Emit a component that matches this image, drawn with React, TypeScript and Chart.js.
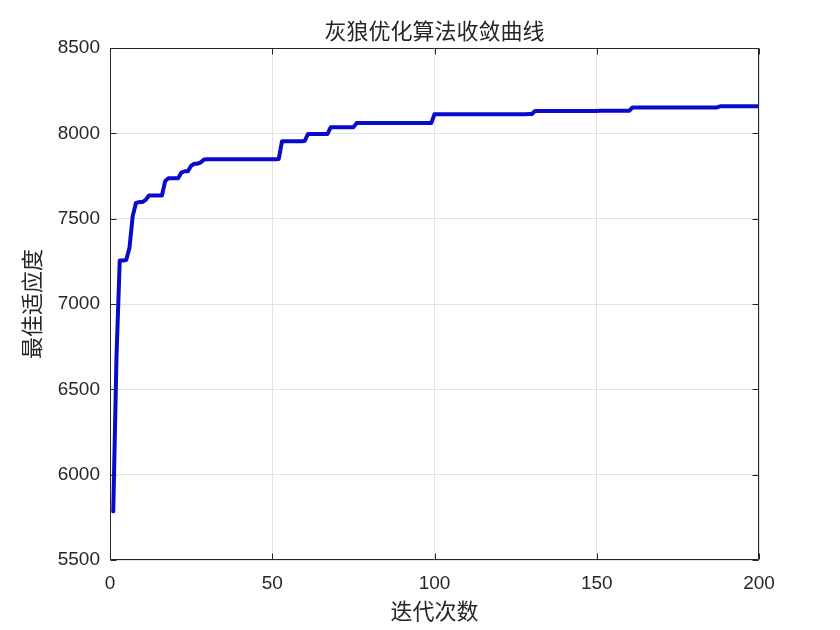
import React, { useEffect, useRef } from "react";
import { Chart, registerables } from "chart.js";

Chart.register(...registerables);

const TITLE = "灰狼优化算法收敛曲线";
const X_LABEL = "迭代次数";
const Y_LABEL = "最佳适应度";
const X_TICKS = [0, 50, 100, 150, 200];
const Y_TICKS = [5500, 6000, 6500, 7000, 7500, 8000, 8500];

// best fitness per iteration (iterations 1..200)
const BEST_FITNESS = [
  5785, 6690, 7255, 7255, 7258, 7330, 7515, 7592, 7597, 7597,
  7610, 7636, 7636, 7636, 7636, 7636, 7720, 7737, 7737, 7737,
  7737, 7770, 7778, 7778, 7810, 7822, 7822, 7830, 7847, 7848,
  7848, 7848, 7848, 7848, 7848, 7848, 7848, 7848, 7848, 7848,
  7848, 7848, 7848, 7848, 7848, 7848, 7848, 7848, 7848, 7848,
  7848, 7850, 7953, 7953, 7953, 7953, 7953, 7953, 7953, 7955,
  7996, 7996, 7996, 7996, 7996, 7996, 7996, 8035, 8035, 8035,
  8035, 8035, 8035, 8035, 8035, 8060, 8060, 8060, 8060, 8060,
  8060, 8060, 8060, 8060, 8060, 8060, 8060, 8060, 8060, 8060,
  8060, 8060, 8060, 8060, 8060, 8060, 8060, 8060, 8060, 8112,
  8112, 8112, 8112, 8112, 8112, 8112, 8112, 8112, 8112, 8112,
  8112, 8112, 8112, 8112, 8112, 8112, 8112, 8112, 8112, 8112,
  8112, 8112, 8112, 8112, 8112, 8112, 8112, 8112, 8113, 8113,
  8131, 8131, 8131, 8131, 8131, 8131, 8131, 8131, 8131, 8131,
  8131, 8131, 8131, 8131, 8131, 8131, 8131, 8131, 8131, 8131,
  8132, 8132, 8132, 8132, 8132, 8132, 8132, 8132, 8132, 8132,
  8152, 8152, 8152, 8152, 8152, 8152, 8152, 8152, 8152, 8152,
  8152, 8152, 8152, 8152, 8152, 8152, 8152, 8152, 8152, 8152,
  8152, 8152, 8152, 8152, 8152, 8152, 8152, 8158, 8158, 8158,
  8158, 8158, 8158, 8158, 8158, 8158, 8158, 8158, 8158, 8158,
];

const AXIS_COLOR = "#262626";
const GRID_COLOR = "#e2e2e2";
const LINE_COLOR = "#0a0acd";
const CJK_FONT = "'Noto Sans CJK SC', sans-serif";
const NUM_FONT = "'Liberation Sans', Arial, sans-serif";

const boxPlugin = {
  id: "matlabBox",
  afterDraw(chart: any) {
    const { ctx, chartArea } = chart;
    const xs = chart.scales.x;
    const ys = chart.scales.y;
    const l = Math.round(chartArea.left) + 0.5;
    const r = Math.round(chartArea.right) - 0.5;
    const t = Math.round(chartArea.top) + 0.5;
    const b = Math.round(chartArea.bottom) - 0.5;
    const tl = 6;
    ctx.save();
    ctx.strokeStyle = AXIS_COLOR;
    ctx.lineWidth = 1;
    ctx.beginPath();
    ctx.rect(l, t, r - l, b - t);
    for (const v of X_TICKS) {
      const px = Math.round(xs.getPixelForValue(v)) + 0.5;
      ctx.moveTo(px, b);
      ctx.lineTo(px, b - tl);
      ctx.moveTo(px, t);
      ctx.lineTo(px, t + tl);
    }
    for (const v of Y_TICKS) {
      const py = Math.round(ys.getPixelForValue(v)) + 0.5;
      ctx.moveTo(l, py);
      ctx.lineTo(l + tl, py);
      ctx.moveTo(r, py);
      ctx.lineTo(r - tl, py);
    }
    ctx.stroke();
    ctx.restore();
  },
};

export default function App() {
  const ref = useRef<HTMLCanvasElement | null>(null);

  useEffect(() => {
    if (!ref.current) return;
    const points = BEST_FITNESS.map((v, i) => ({ x: i + 1, y: v }));
    const chart = new Chart(ref.current, {
      type: "line",
      data: {
        datasets: [
          {
            data: points,
            borderColor: LINE_COLOR,
            backgroundColor: LINE_COLOR,
            borderWidth: 4,
            pointRadius: 0,
            tension: 0,
            fill: false,
            borderJoinStyle: "round",
            borderCapStyle: "round",
          },
        ],
      },
      options: {
        responsive: false,
        animation: false,
        layout: { padding: { left: 0, right: 81, top: 0, bottom: 0 } },
        plugins: {
          legend: { display: false },
          tooltip: { enabled: false },
          title: {
            display: true,
            fullSize: false,
            text: TITLE,
            color: AXIS_COLOR,
            font: { family: CJK_FONT, size: 22, weight: "normal", lineHeight: 1 },
            padding: { top: 20, bottom: 6 },
          },
        },
        scales: {
          x: {
            type: "linear",
            min: 0,
            max: 200,
            afterBuildTicks: (s: any) => {
              s.ticks = X_TICKS.map((v) => ({ value: v }));
            },
            afterFit: (s: any) => {
              s.height = 70;
            },
            grid: { color: GRID_COLOR, drawTicks: false },
            border: { display: false },
            ticks: {
              color: AXIS_COLOR,
              padding: 12,
              maxRotation: 0,
              font: { family: NUM_FONT, size: 19 },
              callback: (v: any) => String(v),
            },
            title: {
              display: true,
              text: X_LABEL,
              color: AXIS_COLOR,
              font: { family: CJK_FONT, size: 22, lineHeight: 1 },
              padding: { top: 0, bottom: 8 },
            },
          },
          y: {
            type: "linear",
            min: 5500,
            max: 8500,
            afterBuildTicks: (s: any) => {
              s.ticks = Y_TICKS.map((v) => ({ value: v }));
            },
            afterFit: (s: any) => {
              s.width = 110;
            },
            grid: { color: GRID_COLOR, drawTicks: false },
            border: { display: false },
            ticks: {
              color: AXIS_COLOR,
              padding: 10,
              font: { family: NUM_FONT, size: 19 },
              callback: (v: any) => String(v),
            },
            title: {
              display: true,
              text: Y_LABEL,
              color: AXIS_COLOR,
              font: { family: CJK_FONT, size: 22, lineHeight: 1 },
              padding: { top: 21, bottom: 0 },
            },
          },
        },
      },
      plugins: [boxPlugin],
    });
    return () => chart.destroy();
  }, []);

  return (
    <div style={{ position: "fixed", left: 0, top: 0, width: 840, height: 630, background: "#fff" }}>
      <canvas ref={ref} width={840} height={630} style={{ display: "block" }} />
    </div>
  );
}
